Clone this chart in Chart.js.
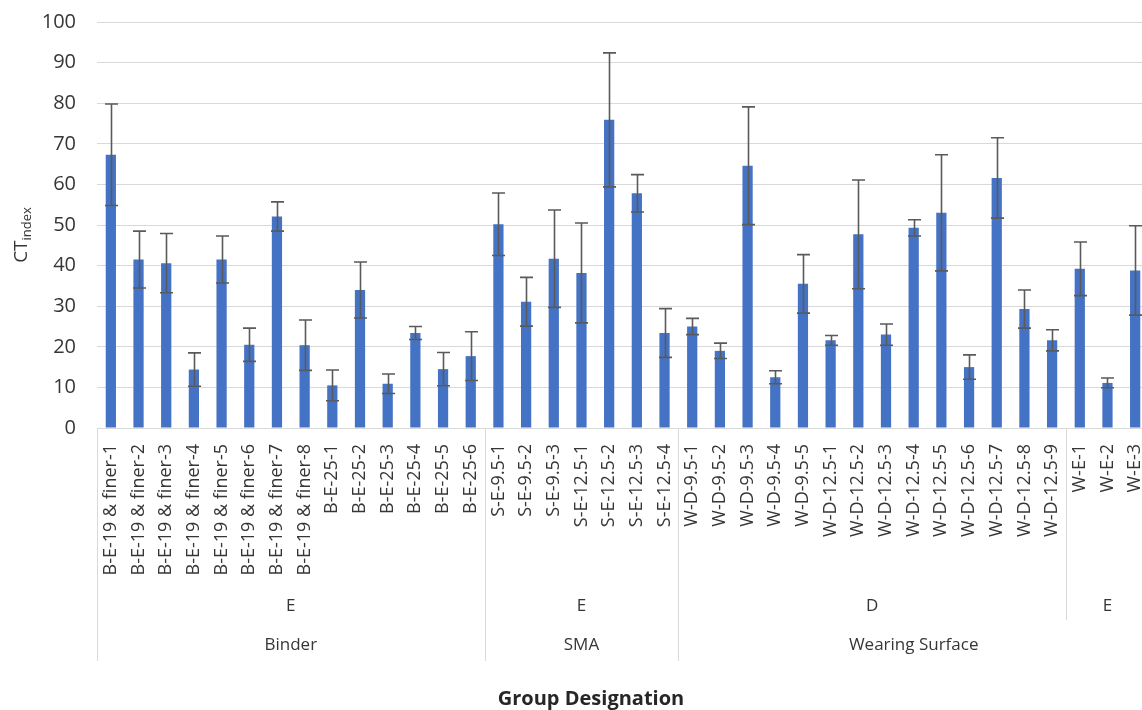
<!DOCTYPE html>
<html>
<head>
<meta charset="utf-8">
<script src="https://cdn.jsdelivr.net/npm/chart.js@4.4.1/dist/chart.umd.min.js"></script>
<style>
  html, body { margin: 0; padding: 0; background: #fff; overflow: hidden; }
  #wrap { width: 1149px; height: 710px; }
</style>
</head>
<body>
<div id="wrap"><canvas id="c" width="1149" height="710"></canvas></div>
<script>
// Mix designations (one bar each)
const categories = [
  'B-E-19 & finer-1', 'B-E-19 & finer-2', 'B-E-19 & finer-3', 'B-E-19 & finer-4',
  'B-E-19 & finer-5', 'B-E-19 & finer-6', 'B-E-19 & finer-7', 'B-E-19 & finer-8',
  'B-E-25-1', 'B-E-25-2', 'B-E-25-3', 'B-E-25-4', 'B-E-25-5', 'B-E-25-6',
  'S-E-9.5-1', 'S-E-9.5-2', 'S-E-9.5-3',
  'S-E-12.5-1', 'S-E-12.5-2', 'S-E-12.5-3', 'S-E-12.5-4',
  'W-D-9.5-1', 'W-D-9.5-2', 'W-D-9.5-3', 'W-D-9.5-4', 'W-D-9.5-5',
  'W-D-12.5-1', 'W-D-12.5-2', 'W-D-12.5-3', 'W-D-12.5-4', 'W-D-12.5-5',
  'W-D-12.5-6', 'W-D-12.5-7', 'W-D-12.5-8', 'W-D-12.5-9',
  'W-E-1', 'W-E-2', 'W-E-3'
];

// Mean CTindex per mix
const ctIndex = [
  67.3, 41.5, 40.6, 14.4, 41.5, 20.5, 52.1, 20.4,
  10.5, 34.0, 10.9, 23.4, 14.5, 17.7,
  50.2, 31.1, 41.7,
  38.2, 75.9, 57.8, 23.4,
  25.0, 19.0, 64.6, 12.5, 35.5,
  21.6, 47.7, 23.0, 49.3, 53.0, 15.0, 61.6, 29.3, 21.6,
  39.2, 11.1, 38.8
];

// Standard deviation per mix (error bar half-length)
const ctStdev = [
  12.5, 7.0, 7.3, 4.1, 5.8, 4.1, 3.6, 6.2,
  3.8, 6.9, 2.4, 1.6, 4.1, 6.0,
  7.7, 6.0, 12.0,
  12.3, 16.5, 4.6, 6.0,
  2.0, 1.9, 14.5, 1.6, 7.2,
  1.2, 13.4, 2.6, 2.0, 14.3, 3.0, 9.9, 4.7, 2.6,
  6.6, 1.2, 11.0
];

// Second axis level: design level, with number of mixes in each run
const designLevels = ['E', 'E', 'D', 'E'];
const designCounts = [14, 7, 14, 3];

// Third axis level: mix type, with number of mixes in each run
const mixTypes = ['Binder', 'SMA', 'Wearing Surface'];
const mixCounts = [14, 7, 17];

const yTicks = [0, 10, 20, 30, 40, 50, 60, 70, 80, 90, 100];

const FONT = '"Open Sans", "DejaVu Sans", sans-serif';
const TEXT = '#363636';
const LINE = '#d9d9d9';

// Error bars drawn from the mean +/- one standard deviation
const errorBars = {
  id: 'errorBars',
  afterDatasetsDraw(chart) {
    const { ctx } = chart;
    const y = chart.scales.y;
    const meta = chart.getDatasetMeta(0);
    const cap = 6.5;
    ctx.save();
    ctx.strokeStyle = '#5a5a5a';
    ctx.lineWidth = 1.6;
    meta.data.forEach((bar, i) => {
      const top = y.getPixelForValue(ctIndex[i] + ctStdev[i]);
      const bot = y.getPixelForValue(ctIndex[i] - ctStdev[i]);
      const cx = Math.round(bar.x) + 0.5;
      ctx.beginPath();
      ctx.moveTo(cx, top); ctx.lineTo(cx, bot);
      ctx.moveTo(cx - cap, top); ctx.lineTo(cx + cap, top);
      ctx.moveTo(cx - cap, bot); ctx.lineTo(cx + cap, bot);
      ctx.stroke();
    });
    ctx.restore();
  }
};

// Grouped category axis (design level, mix type), separators and axis titles
const groupedAxis = {
  id: 'groupedAxis',
  afterDraw(chart) {
    const { ctx } = chart;
    const x = chart.scales.x;
    const axisY = chart.chartArea.bottom;
    const boundary = (i) => {
      if (i <= 0) return x.left;
      if (i >= categories.length) return x.right;
      return (x.getPixelForValue(i - 1) + x.getPixelForValue(i)) / 2;
    };

    ctx.save();
    ctx.strokeStyle = LINE;
    ctx.lineWidth = 1;
    ctx.fillStyle = TEXT;
    ctx.textAlign = 'center';
    ctx.textBaseline = 'middle';
    ctx.font = '17px ' + FONT;

    // design level row
    let start = 0;
    designLevels.forEach((lab, k) => {
      const end = start + designCounts[k];
      const x0 = boundary(start), x1 = boundary(end);
      ctx.beginPath();
      ctx.moveTo(Math.round(x0) + 0.5, axisY);
      ctx.lineTo(Math.round(x0) + 0.5, 620);
      ctx.stroke();
      ctx.fillText(lab, (x0 + x1) / 2, 606);
      start = end;
    });

    // mix type row
    start = 0;
    mixTypes.forEach((lab, k) => {
      const end = start + mixCounts[k];
      const x0 = boundary(start), x1 = boundary(end);
      ctx.beginPath();
      ctx.moveTo(Math.round(x0) + 0.5, axisY);
      ctx.lineTo(Math.round(x0) + 0.5, 661);
      ctx.stroke();
      ctx.fillText(lab, (x0 + x1) / 2, 645);
      start = end;
    });

    // x axis title
    ctx.font = 'bold 20px ' + FONT;
    ctx.fillStyle = '#262626';
    ctx.fillText('Group Designation', 591, 699);

    // y axis title: CT with subscript "index"
    ctx.translate(20, 235);
    ctx.rotate(-Math.PI / 2);
    ctx.textAlign = 'left';
    ctx.textBaseline = 'alphabetic';
    ctx.fillStyle = TEXT;
    const big = '19px ' + FONT, small = '13px ' + FONT;
    ctx.font = big;
    const wCT = ctx.measureText('CT').width;
    ctx.font = small;
    const wIdx = ctx.measureText('index').width;
    const x0 = -(wCT + wIdx) / 2;
    ctx.font = big;
    ctx.fillText('CT', x0, 7);
    ctx.font = small;
    ctx.fillText('index', x0 + wCT, 11);
    ctx.restore();
  }
};

new Chart(document.getElementById('c'), {
  type: 'bar',
  data: {
    labels: categories,
    datasets: [{
      label: 'CTindex',
      data: ctIndex,
      backgroundColor: '#4472c4',
      borderWidth: 0,
      barPercentage: 0.37,
      categoryPercentage: 1.0
    }]
  },
  options: {
    responsive: false,
    animation: false,
    devicePixelRatio: 1,
    layout: { padding: { top: 0, right: 0, bottom: 0, left: 0 } },
    plugins: {
      legend: { display: false },
      tooltip: { enabled: false },
      title: { display: false }
    },
    scales: {
      x: {
        type: 'category',
        grid: { display: false, drawTicks: false },
        border: { display: true, color: LINE, width: 1 },
        ticks: {
          autoSkip: false,
          minRotation: 90,
          maxRotation: 90,
          padding: 16,
          color: TEXT,
          font: { family: FONT, size: 18 }
        },
        afterFit(scale) {
          scale.height = 282;
          scale.paddingLeft = 0;
          scale.paddingRight = 0;
        }
      },
      y: {
        min: 0,
        max: 100,
        afterBuildTicks(scale) { scale.ticks = yTicks.map(v => ({ value: v })); },
        grid: { color: LINE, lineWidth: 1, drawTicks: false },
        border: { display: false },
        ticks: {
          padding: 21,
          color: TEXT,
          font: { family: FONT, size: 20 }
        },
        afterFit(scale) {
          scale.width = 97;
          scale.paddingTop = 22;
          scale.paddingBottom = 0;
        }
      }
    }
  },
  plugins: [errorBars, groupedAxis]
});
</script>
</body>
</html>
